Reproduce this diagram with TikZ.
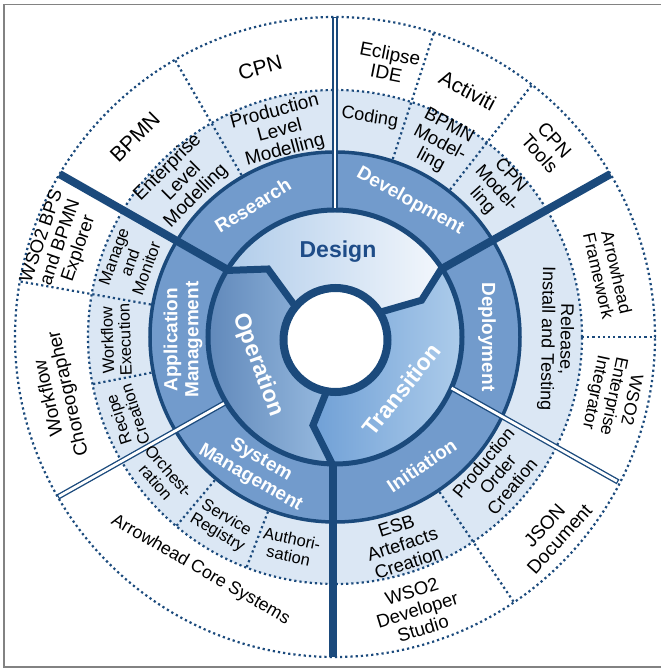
\documentclass[tikz,border=0pt]{standalone}
\usepackage{fontspec}
\setmainfont{Liberation Sans}
\usetikzlibrary{calc}
\definecolor{ringdark}{RGB}{27,74,124}
\definecolor{ringmid}{RGB}{114,155,204}
\definecolor{ringlight}{RGB}{219,231,244}
\definecolor{framegray}{RGB}{130,130,130}
\definecolor{designA}{RGB}{176,204,234}
\definecolor{designB}{RGB}{243,247,252}
\definecolor{transA}{RGB}{112,160,214}
\definecolor{transB}{RGB}{180,209,237}
\definecolor{operA}{RGB}{96,136,186}
\definecolor{operB}{RGB}{32,72,122}
\definecolor{operC}{RGB}{152,187,224}
\definecolor{designtext}{RGB}{30,76,136}
\tikzset{
    dotsep/.style={ringdark, line width=2.2pt, dash pattern=on 2.2pt off 3pt},
    barsep/.style={ringdark, line width=8pt},
    gapsep/.style={ringdark, line width=5.5pt},
    gapfill/.style={white, line width=2.8pt, shorten <=1.3pt, shorten >=1.3pt},
    tool/.style={align=center, inner sep=0pt, font=\linespread{1.05}\fontsize{#1}{#1}\selectfont},
    tool/.default=17.5,
    task/.style={align=center, inner sep=0pt, font=\linespread{1.05}\fontsize{#1}{#1}\selectfont},
    task/.default=17.5,
    area/.style={align=center, inner sep=0pt, text=white, font=\bfseries\fontsize{19}{21}\selectfont},
    phase/.style={inner sep=0pt, font=\bfseries\fontsize{23}{25}\selectfont},
}
\newcommand{\gapline}[2]{\draw[gapsep] #1 -- #2; \draw[gapfill] #1 -- #2;}
\begin{document}
\begin{tikzpicture}[x=1pt, y=1pt]
	%frame
	\useasboundingbox (-335,-331) rectangle (325,337);
	\draw[framegray, line width=1.3pt] (327,332.5) -- (-331,332.5) -- (-331,-330) -- (327,-330);
	%rings
	\draw[dotsep] (0,0) circle[radius=320];
	\fill[ringlight] (0,0) circle[radius=247];
	\draw[dotsep] (0,0) circle[radius=247];
	\fill[ringmid] (0,0) circle[radius=186];
	\draw[ringdark, line width=3.5pt] (0,0) circle[radius=185];
	%phases
	\shade[left color=designA, right color=designB] (148.7:127) arc[start angle=148.7, end angle=33, radius=127]
		-- (23:94) -- (28.7:52) arc[start angle=28.7, end angle=141.8, radius=52] -- (134.6:95.5) -- cycle;
	\shade[left color=transA, right color=transB] (33:127) arc[start angle=33, end angle=-91, radius=127]
		-- (256:91) -- (262:52) arc[start angle=-98, end angle=28.7, radius=52] -- (23:94) -- cycle;
	\shade[left color=operA, middle color=operB, right color=operC] (269:127) arc[start angle=269, end angle=148.7, radius=127]
		-- (134.6:95.5) -- (141.8:52) arc[start angle=141.8, end angle=262, radius=52] -- (256:91) -- cycle;
	\draw[ringdark, line width=5pt] (0,0) circle[radius=127];
	\draw[ringdark, line width=7pt, line join=miter] (148.7:128) -- (134.6:95.5) -- (141.8:52);
	\draw[ringdark, line width=7pt, line join=miter] (33:128) -- (23:94) -- (28.7:52);
	\draw[ringdark, line width=7pt, line join=miter] (269:128) -- (256:91) -- (262:52);
	\draw[ringdark, line width=8pt, fill=white] (0.5,-3) circle[radius=52];
	%separators
	\foreach \a in {52,72,120,170,304}
		\draw[dotsep] (\a:187) -- (\a:320);
	\foreach \a in {191,230,249}
		\draw[dotsep] (\a:187) -- (\a:247);
	\draw[dotsep] (0:247) -- (0:320);
	\draw[barsep] (148:128) -- (149.4:320);
	\draw[barsep] (32.5:128) -- (30.6:320);
	\draw[barsep] (-2,-127) -- (-2,-320);
	\gapline{(90:128)}{(90:320)}
	\gapline{(210.9:128)}{(210:320)}
	\gapline{(-23.6:126)}{(-27.1:318)}
	%tools
	\node[tool=21, rotate=15.5] (cpn) at (105.5:280) {CPN};
	\node[tool=21, rotate=45] (bpmn) at (135:283) {BPMN};
	\node[tool=19, rotate=-11] (eclipse) at (79:279) {Eclipse\\IDE};
	\node[tool=21, rotate=-28] (activiti) at (61.7:280) {Activiti};
	\node[tool=19, rotate=-48] (cpntools) at (41.9:285) {CPN\\Tools};
	\node[tool, rotate=-77] (framework) at (13:280) {Arrowhead\\Framework};
	\node[tool, rotate=-102] (integrator) at (-12:284) {WSO2\\Enterprise\\Integrator};
	\node[tool=19, rotate=48] (json) at (318:292) {JSON\\Document};
	\node[tool=18.5, rotate=17] (devstudio) at (286.8:285) {WSO2\\Developer\\Studio};
	\node[tool=17.8, rotate=-30] (coresys) at (240:269) {Arrowhead Core Systems};
	\node[tool=19, rotate=103] (choreo) at (192:282) {Workflow\\Choreographer};
	\node[tool=18.5, rotate=71] (bps) at (161:290) {WSO2 BPS\\and BPMN\\Explorer};
	%tasks
	\node[task=19, rotate=15] (prodmod) at (105:213) {Production\\Level\\Modelling};
	\node[task=19, rotate=45] (entmod) at (134.6:218) {Enterprise\\Level\\Modelling};
	\node[task=18, rotate=-9] (coding) at (81:222) {Coding};
	\node[task=18.5, rotate=-28] (bpmnmod) at (61.6:220) {BPMN\\Model-\\ling};
	\node[task=18, rotate=-48] (cpnmod) at (42.6:219) {CPN\\Model-\\ling};
	\node[task=18, rotate=-91] (release) at (-0.5:221) {Release,\\Install and Testing};
	\node[task=17.8, rotate=50] (order) at (319.8:213) {Production\\Order\\Creation};
	\node[task=18.5, rotate=18] (esb) at (288:218) {ESB\\Artefacts\\Creation};
	\node[task=16.5, rotate=-12] (auth) at (258:215) {Authori-\\sation};
	\node[task=16.5, rotate=-31] (registry) at (239:220) {Service\\Registry};
	\node[task=16.5, rotate=-49] (orch) at (219:222) {Orchest-\\ration};
	\node[task=16.5, rotate=108] (recipe) at (201:223) {Recipe\\Creation};
	\node[task=16.5, rotate=92] (execution) at (180.8:219) {Workflow\\Execution};
	\node[task=16.5, rotate=70] (monitor) at (160:218) {Manage\\and\\Monitor};
	%areas
	\node[area, rotate=32] (research) at (122:155) {Research};
	\node[area, rotate=-29] (development) at (61:155) {Development};
	\node[area, rotate=-90] (deployment) at (0:152) {Deployment};
	\node[area, rotate=34] (initiation) at (304:155) {Initiation};
	\node[area, rotate=-30] (sysman) at (239:154) {System\\Management};
	\node[area, rotate=90] (appman) at (181:152) {Application\\Management};
	%phases
	\node[phase, text=designtext] (design) at (88:85) {Design};
	\node[phase, text=white, rotate=-70] (operation) at (200:82) {Operation};
	\node[phase, text=white, rotate=51.6] (transition) at (321.6:85) {Transition};
\end{tikzpicture}
\end{document}
